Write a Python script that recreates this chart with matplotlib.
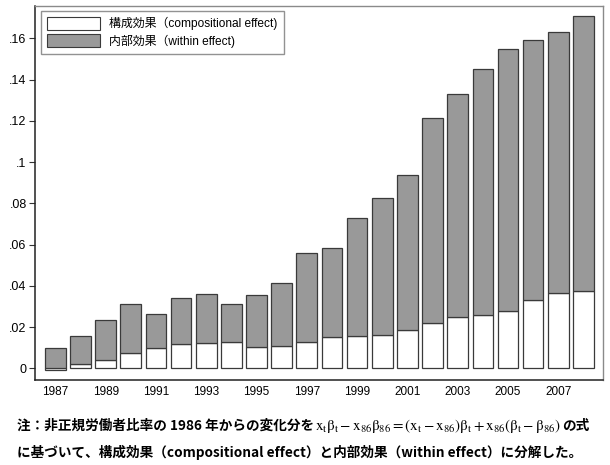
import matplotlib
matplotlib.use("Agg")
import matplotlib.pyplot as plt
import numpy as np
from matplotlib.patches import Patch

years = list(range(1987, 2009))
compositional = [-0.0008, 0.0019, 0.0040, 0.0076, 0.0099, 0.0117, 0.0124, 0.0127,
                 0.0101, 0.0110, 0.0129, 0.0150, 0.0156, 0.0160, 0.0185, 0.0221,
                 0.0249, 0.0260, 0.0280, 0.0329, 0.0367, 0.0373]
within = [0.0100, 0.0138, 0.0192, 0.0236, 0.0166, 0.0223, 0.0238, 0.0186,
          0.0253, 0.0303, 0.0428, 0.0434, 0.0575, 0.0665, 0.0750, 0.0994,
          0.1083, 0.1191, 0.1269, 0.1265, 0.1266, 0.1335]
ytick_vals = [0, 0.02, 0.04, 0.06, 0.08, 0.10, 0.12, 0.14, 0.16]
ytick_labels = ["0", ".02", ".04", ".06", ".08", ".1", ".12", ".14", ".16"]
xtick_years = list(range(1987, 2008, 2))
legend_labels = ["構成効果（compositional effect)", "内部効果（within effect)"]
note_head = "注：非正規労働者比率の 1986 年からの変化分を"
note_math = (r"$\mathrm{x_t\beta_t - x_{86}\beta_{86} = (x_t - x_{86})\beta_t"
             r" + x_{86}(\beta_t - \beta_{86})}$")
note_tail = "の式"
note_line2 = "に基づいて、構成効果（compositional effect）と内部効果（within effect）に分解した。"

plt.rcParams['mathtext.fontset'] = 'stix'
sans = ['Liberation Sans', 'Noto Sans CJK JP']
gray = '#999999'
edge = '#3a3a3a'

W, H = 610, 465
fig = plt.figure(figsize=(W / 100, H / 100), dpi=100)
ax = fig.add_axes([35 / W, (H - 380) / H, (603 - 35) / W, (380 - 6) / H])

x = np.arange(len(years))
comp = np.array(compositional)
ax.bar(x, comp, width=0.82, color='white', edgecolor=edge, linewidth=0.9)
ax.bar(x, within, width=0.82, bottom=np.clip(comp, 0, None), color=gray,
       edgecolor=edge, linewidth=0.9)

ax.set_xlim(-0.81, len(years) - 1 + 0.78)
ax.set_ylim(-0.0057, 0.1757)

ax.set_yticks(ytick_vals)
ax.set_yticklabels(ytick_labels, family=sans, fontsize=9)
ax.set_xticks([years.index(y) for y in xtick_years])
ax.set_xticklabels([str(y) for y in xtick_years], family=sans, fontsize=8.5)
ax.tick_params(axis='y', length=4, width=0.8, color='#333333', pad=2)
ax.tick_params(axis='x', length=0, pad=4.5)

for s in ['left', 'bottom']:
    ax.spines[s].set_color('#222222')
    ax.spines[s].set_linewidth(1.1)
for s in ['top', 'right']:
    ax.spines[s].set_color('#8a8a8a')
    ax.spines[s].set_linewidth(1.0)

handles = [Patch(facecolor='white', edgecolor=edge, linewidth=0.8),
           Patch(facecolor=gray, edgecolor=edge, linewidth=0.8)]
leg = ax.legend(handles, legend_labels, loc='upper left',
                bbox_to_anchor=(40.7 / W, 1 - 11.3 / H), bbox_transform=fig.transFigure,
                prop={'family': sans, 'size': 8.6}, frameon=True, fancybox=False,
                edgecolor='#777777', handlelength=4.5, handleheight=1.2,
                handletextpad=0.75, borderpad=0.5, labelspacing=0.33, borderaxespad=0)
leg.get_frame().set_linewidth(1.0)

# footnote: CJK text and the formula are separate pieces placed side by side
y1 = 1 - 430 / H
fs = 9.8
t_head = fig.text(17 / W, y1, note_head, family='Noto Sans CJK JP', weight='bold',
                  fontsize=fs, va='baseline', ha='left')
renderer = fig.canvas.get_renderer()
x_end = t_head.get_window_extent(renderer).x1 + 1
t_math = fig.text(x_end / W, y1, note_math, fontsize=10.8, va='baseline', ha='left')
x_end = t_math.get_window_extent(renderer).x1 + 1
fig.text(x_end / W, y1, note_tail, family='Noto Sans CJK JP', weight='bold',
         fontsize=fs, va='baseline', ha='left')
fig.text(17 / W, 1 - 457 / H, note_line2, family='Noto Sans CJK JP', weight='bold',
         fontsize=fs, va='baseline', ha='left')

fig.savefig('out.png', dpi=100)
